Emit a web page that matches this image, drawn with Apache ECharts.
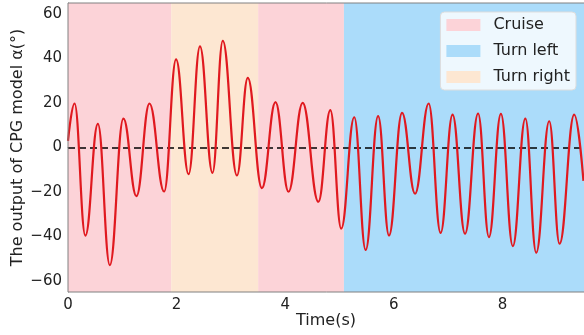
<!DOCTYPE html>
<html>
<head>
<meta charset="utf-8">
<script src="https://cdn.jsdelivr.net/npm/echarts@6/dist/echarts.min.js"></script>
<style>
  html, body { margin: 0; padding: 0; background: #fff; }
  #main { width: 584px; height: 335px; }
</style>
</head>
<body>
<div id="main"></div>
<script>
// CPG output (peaks and troughs)
var tData = [0, 0.12, 0.32, 0.55, 0.77, 1.02, 1.26, 1.50, 1.77, 1.99,
    2.22, 2.43, 2.66, 2.85, 3.11, 3.31, 3.57, 3.82, 4.06, 4.32,
    4.61, 4.83, 5.03, 5.27, 5.48, 5.71, 5.91, 6.15, 6.39, 6.64,
    6.86, 7.08, 7.31, 7.55, 7.75, 7.97, 8.19, 8.42, 8.62, 8.86,
    9.05, 9.32, 9.49];
var alphaData = [3, 19.8, -39.6, 10.6, -52.9, 13, -21.9, 19.8, -19.8, 39.6,
    -12, 45.5, -11.4, 48, -12.6, 31.3, -18.3, 20.4, -19.9, 20.1,
    -24.4, 16.8, -36.5, 13.6, -46.1, 14.1, -39.6, 15.6, -20.8, 19.8,
    -38.4, 14.8, -38.8, 15.3, -40.3, 15.1, -44.4, 13, -47.3, 11.8,
    -43.3, 14.8, -15];

// swimming modes (time ranges)
var cruiseRanges = [[0, 1.9], [3.5, 5.08]];
var turnLeftRanges = [[5.08, 9.5]];
var turnRightRanges = [[1.9, 3.5]];
var modeNames = ['Cruise', 'Turn left', 'Turn right'];

var xTicks = [0, 2, 4, 6, 8];
var yTicks = [-60, -40, -20, 0, 20, 40, 60];

var dom = document.getElementById('main');
var myChart = echarts.init(dom);

var font = 'DejaVu Sans';
function minus(v) { return String(v).replace('-', '\u2212'); }

function areaData(ranges) {
    return ranges.map(function (r) { return [{ xAxis: r[0] }, { xAxis: r[1] }]; });
}

var modeColors = ['#fcd3d8', '#abdcfa', '#fde7d2'];
var modeRanges = [cruiseRanges, turnLeftRanges, turnRightRanges];

var series = modeNames.map(function (name, i) {
    return {
        name: name,
        type: 'line',
        data: [],
        color: modeColors[i],
        silent: true,
        markArea: {
            silent: true,
            itemStyle: { color: modeColors[i], opacity: 1 },
            data: areaData(modeRanges[i])
        }
    };
});

series.push({
    name: 'alpha',
    type: 'line',
    data: tData.map(function (t, i) { return [t, alphaData[i]]; }),
    showSymbol: false,
    smooth: 0.42,
    smoothMonotone: 'x',
    z: 5,
    lineStyle: { color: '#e0191f', width: 2.2 },
    markLine: {
        silent: true,
        symbol: ['none', 'none'],
        label: { show: false },
        lineStyle: { color: '#000', type: [7, 4], width: 1.6 },
        data: [{ yAxis: 0 }]
    }
});

option = {
    animation: false,
    grid: { left: 68, right: 0, top: 3, bottom: 43, outerBoundsMode: 'none', containLabel: false },
    legend: {
        data: modeNames,
        orient: 'vertical',
        right: 8,
        top: 12,
        icon: 'rect',
        itemWidth: 34,
        itemHeight: 12,
        itemGap: 10,
        padding: [5, 6, 5, 6],
        backgroundColor: 'rgba(255,255,255,0.8)',
        borderColor: '#dddddd',
        borderWidth: 1,
        borderRadius: 4,
        selectedMode: false,
        textStyle: { fontFamily: font, fontSize: 16, color: '#222', padding: [0, 0, 0, 8] }
    },
    xAxis: {
        type: 'value',
        min: 0,
        max: 9.5,
        name: 'Time(s)',
        nameLocation: 'middle',
        nameGap: 21,
        nameMoveOverlap: false,
        nameTextStyle: { fontFamily: font, fontSize: 16, color: '#222' },
        axisLine: { show: true, lineStyle: { color: '#808080', width: 1 } },
        axisTick: { show: true, inside: true, length: 3, customValues: xTicks, lineStyle: { color: '#555' } },
        axisLabel: { customValues: xTicks, fontFamily: font, fontSize: 15, color: '#222', margin: 6 },
        splitLine: { show: false }
    },
    yAxis: {
        type: 'value',
        min: -65,
        max: 65,
        name: 'The output of CPG model α(°)',
        nameLocation: 'middle',
        nameGap: 42,
        nameMoveOverlap: false,
        nameTextStyle: { fontFamily: font, fontSize: 16, color: '#222' },
        axisLine: { show: true, lineStyle: { color: '#808080', width: 1 } },
        axisTick: { show: true, inside: true, length: 3, customValues: yTicks, lineStyle: { color: '#555' } },
        axisLabel: { customValues: yTicks, formatter: minus, fontFamily: font, fontSize: 15, color: '#222', margin: 6 },
        splitLine: { show: false }
    },
    series: series,
    graphic: [{
        type: 'rect',
        silent: true,
        z: 10,
        shape: { x: 68, y: 3, width: 520, height: 289 },
        style: { fill: 'none', stroke: '#808080', lineWidth: 1 }
    }]
};

if (option && typeof option === "object") {
    myChart.setOption(option, true);
}
</script>
</body>
</html>
